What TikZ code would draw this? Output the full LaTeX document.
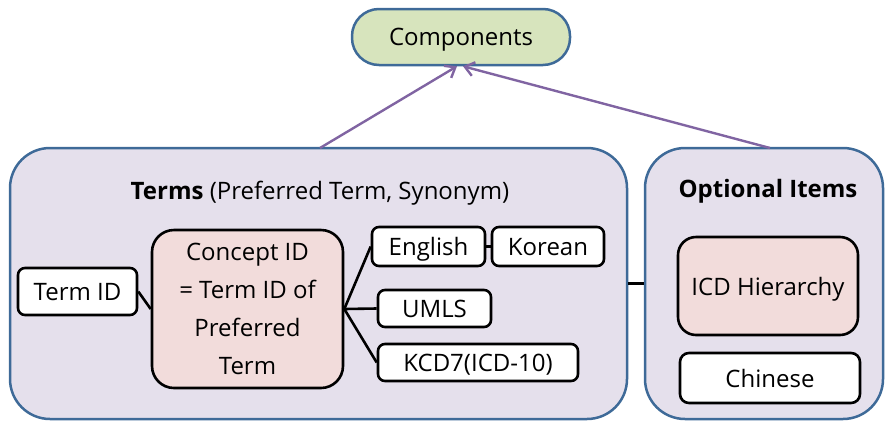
\documentclass[tikz,border=0pt]{standalone}
\usepackage{fontspec}
\setmainfont{Open Sans}
\usetikzlibrary{arrows.meta}
\definecolor{frameblue}{HTML}{3E6A98}
\definecolor{lavender}{HTML}{E5E0EC}
\definecolor{softgreen}{HTML}{D7E4BD}
\definecolor{softpink}{HTML}{F2DCDB}
\definecolor{linkpurple}{HTML}{8064A2}
\tikzset{
  group/.style={draw=frameblue, line width=2.5pt, fill=lavender, rounded corners=40pt, inner sep=0pt},
  item/.style={draw=black, line width=2.6pt, fill=white, rounded corners=7pt, inner sep=0pt, text depth=0pt},
  core/.style={draw=black, line width=2.6pt, fill=softpink, rounded corners=22pt, inner sep=0pt, align=center},
  link/.style={draw=black, line width=2.6pt},
  up/.style={draw=linkpurple, line width=2.4pt, -{Straight Barb[length=9pt,width=14pt,line width=2.4pt]}},
  heading/.style={inner sep=0pt},
}
\begin{document}
\begin{tikzpicture}[x=1pt,y=-1pt, font=\fontsize{24}{28}\selectfont]
\useasboundingbox (0,0) rectangle (885,421);
% top component
\node[draw=frameblue, line width=2.5pt, fill=softgreen, rounded corners=27pt, text depth=0pt,
      minimum width=218pt, minimum height=56pt, inner sep=0pt] (comp) at (461,37) {Components};
% the two groups
\node[group, minimum width=617pt, minimum height=271pt] (terms) at (318.5,283.5) {};
\node[group, minimum width=238pt, minimum height=271pt] (opt) at (764,283.5) {};
\node[heading] (termstitle) at (320,193) {\textbf{Terms} (Preferred Term, Synonym)};
\node[heading] (opttitle) at (768,191) {\textbf{Optional Items}};
% contents of Terms
\node[item, minimum width=119pt, minimum height=47pt] (termid) at (77.5,291.5) {Term ID};
\node[core, minimum width=191pt, minimum height=158pt, font=\fontsize{24}{38}\selectfont] (concept) at (247.5,309)
  {Concept ID\\= Term ID of\\Preferred\\Term};
\node[item, minimum width=113pt, minimum height=39pt] (english) at (428.5,246.5) {English};
\node[item, minimum width=112pt, minimum height=39pt] (korean) at (548,246.5) {Korean};
\node[item, minimum width=113pt, minimum height=37pt] (umls) at (434.5,308.5) {UMLS};
\node[item, minimum width=200pt, minimum height=37pt] (kcd) at (478,362.5) {KCD7(ICD-10)};
% contents of Optional Items
\node[core, rounded corners=18pt, text depth=0pt, minimum width=180pt, minimum height=98pt] (icd) at (768,286) {ICD Hierarchy};
\node[item, rounded corners=9pt, minimum width=180pt, minimum height=50pt] (chinese) at (770,378) {Chinese};
% connectors
\draw[link] (termid.east) -- (concept.west);
\draw[link] (concept.east) -- (english.west);
\draw[link] (concept.east) -- (umls.west);
\draw[link] (concept.east) -- (kcd.west);
\draw[link] (english.east) -- (korean.west);
\draw[link] (terms.east) -- (opt.west);
% arrows up to the component
\coordinate (termstop) at (320,148);
\coordinate (opttop) at (770,148);
\draw[up] (termstop) -- ([xshift=-4pt]comp.south);
\draw[up] (opttop) -- ([xshift=2pt]comp.south);
\end{tikzpicture}
\end{document}
